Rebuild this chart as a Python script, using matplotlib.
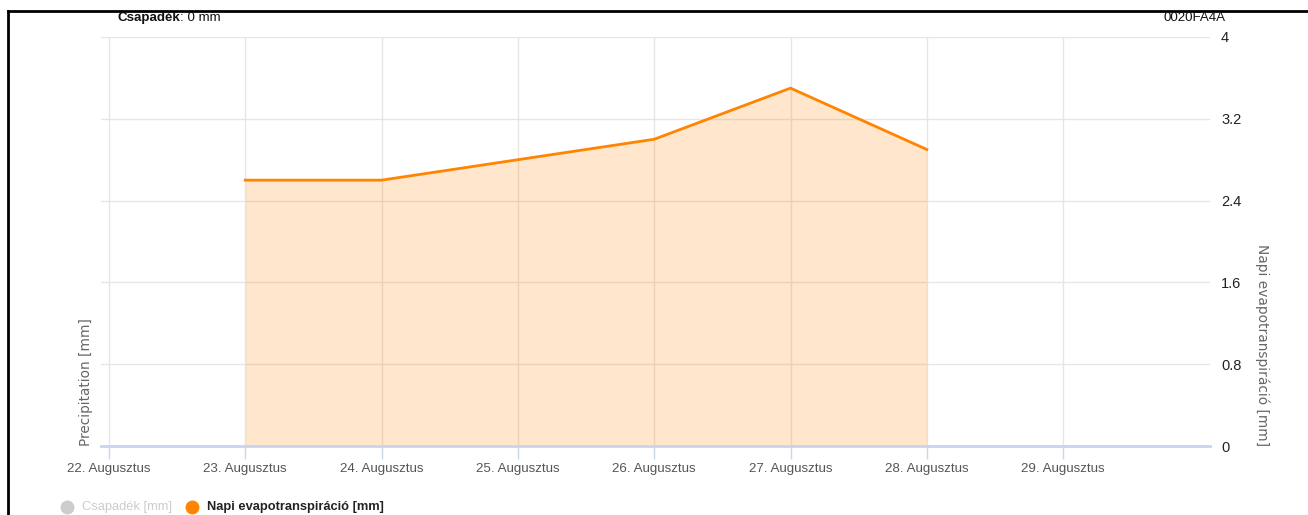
import matplotlib
matplotlib.use("Agg")
import matplotlib.pyplot as plt
from matplotlib.lines import Line2D

plt.rcParams["font.family"] = ["Liberation Sans", "DejaVu Sans"]

# data
days = [22, 23, 24, 25, 26, 27, 28, 29]
day_labels = [f"{d}. Augusztus" for d in days]
et_days = [23, 24, 25, 26, 27, 28]
et_values = [2.6, 2.6, 2.8, 3.0, 3.5, 2.9]
precip_values = [0, 0, 0, 0, 0, 0, 0, 0]   # hidden series (greyed in legend)
y_ticks = [0, 0.8, 1.6, 2.4, 3.2, 4]
device_id = "0020FA4A"

W, H = 1308, 515
fig = plt.figure(figsize=(W / 100, H / 100), dpi=100)

# plot area in pixel coords
left, right, top, bottom = 101, 1210, 37, 446
ax = fig.add_axes([left / W, 1 - bottom / H, (right - left) / W, (bottom - top) / H])

px_per_day = 136.3
ax.set_xlim(22 - (109 - left) / px_per_day, 22 + (right - 109) / px_per_day)
ax.set_ylim(0, 4)

grid_c = "#e6e6e6"
for y in y_ticks[1:]:
    ax.axhline(y, color=grid_c, lw=1, zorder=0)
for d in days:
    ax.axvline(d, color=grid_c, lw=1, zorder=0)

orange = "#ff8400"
ax.fill_between(et_days, et_values, 0, color=orange, alpha=0.2, lw=0, zorder=1)
ax.plot(et_days, et_values, color=orange, lw=2, zorder=3, solid_joinstyle="round")

for s in ax.spines.values():
    s.set_visible(False)
ax.axhline(0, color="#c8d4ee", lw=2, zorder=4, clip_on=False)

ax.set_xticks(days)
ax.set_xticklabels(day_labels, fontsize=9.6, color="#555555")
ax.tick_params(axis="x", length=9, width=1, color="#ccd6eb", pad=3)

ax.yaxis.tick_right()
ax.set_yticks(y_ticks)
ax.set_yticklabels([f"{v:g}" for v in y_ticks], fontsize=10.5, color="#222222")
ax.tick_params(axis="y", length=0, pad=8)

# axis titles, aligned low like the original
fig.text(86 / W, 1 - bottom / H, "Precipitation [mm]", rotation=90, ha="center", va="bottom",
         fontsize=9.8, color="#666666", family=["DejaVu Sans"])
fig.text(1262 / W, 1 - bottom / H, "Napi evapotranspiráció [mm]", rotation=-90,
         ha="center", va="bottom", fontsize=9.9, color="#666666", family=["DejaVu Sans"])

# header texts
t = fig.text(117 / W, 1 - 18 / H, "Csapadék", fontsize=9.6, fontweight="bold",
             color="#111111", va="center")
fig.canvas.draw()
bb = t.get_window_extent()
fig.text(bb.x1 / W, 1 - 18 / H, f": {sum(precip_values):g} mm", fontsize=9.6,
         color="#111111", va="center")
fig.text(1226 / W, 1 - 18 / H, device_id, fontsize=9.6, color="#111111", ha="right", va="center")

# legend
ly = 1 - 507 / H
fig.add_artist(Line2D([67 / W], [ly], marker="o", ms=9, color="#cccccc", transform=fig.transFigure))
fig.text(82 / W, ly, "Csapadék [mm]", fontsize=9.3, color="#cccccc", va="center")
fig.add_artist(Line2D([192 / W], [ly], marker="o", ms=9, color=orange, transform=fig.transFigure))
fig.text(207 / W, ly, "Napi evapotranspiráció [mm]", fontsize=9.3, fontweight="bold",
         color="#222222", va="center")

# screenshot frame (top and left edges)
fig.add_artist(Line2D([8 / W, 1], [1 - 11 / H, 1 - 11 / H], color="black", lw=2,
                      transform=fig.transFigure))
fig.add_artist(Line2D([8 / W, 8 / W], [0, 1 - 11 / H], color="black", lw=2,
                      transform=fig.transFigure))

fig.savefig("out.png", dpi=100)
